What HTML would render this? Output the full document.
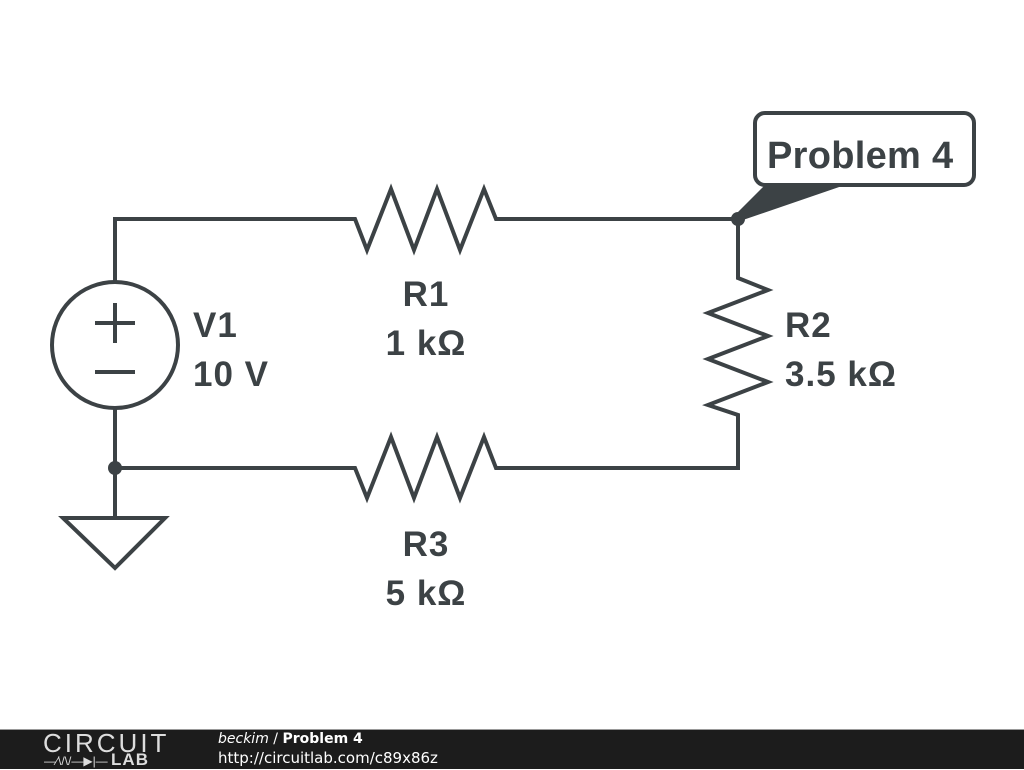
<!DOCTYPE html>
<html><head><style>
body{margin:0;width:1024px;height:768px;background:#fff;overflow:hidden;position:relative;font-family:"DejaVu Sans",sans-serif}
.bar{position:absolute;left:0;top:729px;width:1024px;height:39px;background:#1c1c1c;border-top:1px solid #999}
</style></head><body>
<svg width="1024" height="730" style="position:absolute;left:0;top:0">
<g fill="none" stroke="#3c4245" stroke-width="4" stroke-linejoin="miter">
<polyline points="115,282 115,219 355,219 367,250 391,189 414,250 437,189 460,250 484,189 496,219 738,219 738,278 768,290 708,313 768,336 708,359 768,382 708,405 738,415 738,468 496,468 484,437 460,498 437,437 414,498 391,437 367,498 355,468 115,468"/>
<line x1="115" y1="407" x2="115" y2="518"/>
<circle cx="115" cy="345" r="63"/>
<line x1="95" y1="323" x2="135" y2="323"/><line x1="115" y1="303" x2="115" y2="343"/>
<line x1="95" y1="372" x2="135" y2="372"/>
<polygon points="63,518 165,518 115,568"/>
<rect x="755" y="113" width="219" height="72" rx="10"/>
</g>
<g fill="#3c4245">
<circle cx="115" cy="468" r="7"/><circle cx="738" cy="219" r="7"/>
<polygon points="765,185 845,185 740,221 734,216"/>
</g>
<g fill="#3c4245" font-weight="bold" font-size="35" letter-spacing="1" font-family="Liberation Sans,sans-serif">
<text x="767" y="168" font-size="38" letter-spacing="0.3">Problem 4</text>
<text x="426" y="306" text-anchor="middle">R1</text>
<text x="426" y="355" text-anchor="middle">1 kΩ</text>
<text x="193" y="337">V1</text>
<text x="193" y="386">10 V</text>
<text x="785" y="337">R2</text>
<text x="785" y="386">3.5 kΩ</text>
<text x="426" y="556" text-anchor="middle">R3</text>
<text x="426" y="605" text-anchor="middle">5 kΩ</text>
</g>
</svg>
<div class="bar">
<div style="position:absolute;left:43px;top:-2px;color:#ddd;font-family:'Liberation Sans',sans-serif;font-size:26px;letter-spacing:3px;font-weight:300">CIRCUIT</div>
<div style="position:absolute;left:44px;top:20px;color:#ddd;font-size:12px;font-family:'Liberation Sans',sans-serif">—⁄\/\/—▶|— <b style="font-size:17px;letter-spacing:1px">LAB</b></div>
<div style="position:absolute;left:218px;top:1px;color:#fff;font-size:14px"><i>beckim</i> / <b>Problem 4</b></div>
<div style="position:absolute;left:218px;top:19px;color:#fff;font-size:15px">http://circuitlab.com/c89x86z</div>
</div>
</body></html>
